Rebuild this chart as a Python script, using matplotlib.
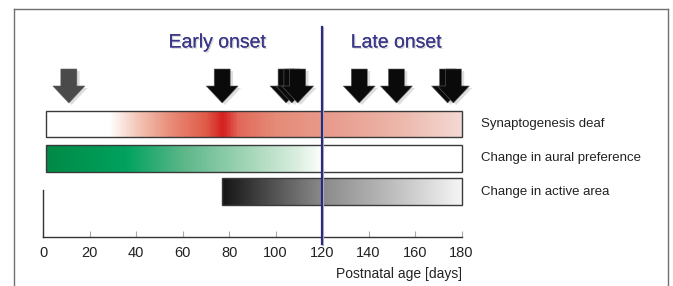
import numpy as np
import matplotlib
matplotlib.use("Agg")
import matplotlib.pyplot as plt
from matplotlib.colors import LinearSegmentedColormap
from matplotlib.patches import FancyArrow, Rectangle
from matplotlib.lines import Line2D
import matplotlib.patheffects as pe

plt.rcParams["font.family"] = ["Liberation Sans", "DejaVu Sans"]

# --- data (postnatal age in days) --------------------------------------------
bar_labels = ["Synaptogenesis deaf", "Change in aural preference", "Change in active area"]
bar_start = [1, 1, 77]
bar_end = [180, 180, 180]

# gradient colour stops along each bar: (day, colour)
red_stops = [(1, "#ffffff"), (28, "#ffffff"), (40, "#f3c7b8"), (55, "#e88a76"),
             (70, "#e05a48"), (77, "#d41f1f"), (84, "#e2695a"), (100, "#e58c78"),
             (120, "#e8998a"), (150, "#ecb3a6"), (180, "#f3d9d2")]
green_stops = [(1, "#008a46"), (35, "#00a25f"), (60, "#5cb789"), (90, "#a8d8bb"),
               (110, "#dcefe2"), (120, "#ffffff"), (180, "#ffffff")]
gray_stops = [(77, "#151515"), (100, "#555555"), (120, "#8a8a8a"),
              (150, "#bdbdbd"), (180, "#f5f5f5")]
stops = [red_stops, green_stops, gray_stops]

arrow_days = [11, 77, 104.5, 107, 109.5, 136, 152, 174, 176.5]
arrow_colors = ["#4a4a4a"] + ["#0a0a0a"] * 8

split_day = 120
ticks = list(range(0, 181, 20))

# --- layout (pixels) -----------------------------------------------------------
W, H = 673, 286
X0_PX, PX_PER_DAY = 43.3, (461.5 - 43.3) / 180
AXIS_Y = 237.3

fig = plt.figure(figsize=(W / 100, H / 100), dpi=100)
fig.patch.set_facecolor("white")

# frame around the figure panel (open at the bottom)
for xs, ys in [([14, 14], [286, 9]), ([14, 668], [9, 9]), ([668, 668], [9, 286])]:
    fig.add_artist(Line2D([x / W for x in xs], [1 - y / H for y in ys],
                          color="#707070", lw=1.0))

# real x axis
axx = fig.add_axes([X0_PX / W, (H - AXIS_Y) / H, 180 * PX_PER_DAY / W, (AXIS_Y - 190) / H])
axx.set_xlim(0, 180)
axx.set_ylim(0, 1)
axx.patch.set_alpha(0)
for s in ["top", "right"]:
    axx.spines[s].set_visible(False)
for s in ["left", "bottom"]:
    axx.spines[s].set_color("#333333")
    axx.spines[s].set_linewidth(1.0)
axx.set_yticks([])
axx.set_xticks(ticks)
axx.tick_params(axis="x", direction="in", length=4, color="#aaaaaa",
                labelsize=10.5, pad=6, labelcolor="#222222")
axx.set_xlabel("Postnatal age [days]", fontsize=10, color="#222222",
               loc="right", labelpad=5)

# overlay in day / pixel coordinates
ax = fig.add_axes([0, 0, 1, 1])
ax.patch.set_alpha(0)
ax.axis("off")

bar_y = [(111, 137), (145, 172), (178, 205)]
for (yt, yb), x0, x1, st, lab in zip(bar_y, bar_start, bar_end, stops, bar_labels):
    pos = [(d - x0) / (x1 - x0) for d, _ in st]
    cmap = LinearSegmentedColormap.from_list("g", list(zip(pos, [c for _, c in st])))
    ax.imshow(np.linspace(0, 1, 400)[np.newaxis, :], extent=(x0, x1, yb, yt),
              aspect="auto", cmap=cmap, interpolation="bilinear", zorder=2)
    ax.add_patch(Rectangle((x0, yt), x1 - x0, yb - yt, fill=False,
                           ec="#3a3a3a", lw=1.0, zorder=3))
    ax.text((481 - X0_PX) / PX_PER_DAY, (yt + yb) / 2, lab, fontsize=9.5,
            color="#222222", va="center", ha="left")

# arrows (with soft drop shadow)
shaft_w, head_w = 16 / PX_PER_DAY, 32 / PX_PER_DAY
for d, c in zip(arrow_days, arrow_colors):
    ax.add_patch(FancyArrow(d + 1.2, 71, 0, 34, width=shaft_w, head_width=head_w,
                            head_length=17, length_includes_head=True,
                            color="#c8c8c8", alpha=0.6, lw=0, zorder=3))
    ax.add_patch(FancyArrow(d, 69, 0, 34, width=shaft_w, head_width=head_w,
                            head_length=17, length_includes_head=True,
                            fc=c, ec="#606060", lw=0.4, zorder=4))

# early / late separator
ax.plot([split_day + 0.6, split_day + 0.6], [28, 245], color="#b8b8c8", lw=1.5, zorder=4)
ax.plot([split_day, split_day], [27, 244], color="#2b2b7b", lw=1.6, zorder=5)

shadow = [pe.withSimplePatchShadow(offset=(1.0, -1.0), shadow_rgbFace="#b0b0b0", alpha=0.45),
          pe.Normal()]
ax.text(75, 43, "Early onset", fontsize=14, color="#3b3787", ha="center",
        va="center", path_effects=shadow, zorder=5)
ax.text(152, 43, "Late onset", fontsize=14, color="#3b3787", ha="center",
        va="center", path_effects=shadow, zorder=5)

ax.set_xlim(-X0_PX / PX_PER_DAY, (W - X0_PX) / PX_PER_DAY)
ax.set_ylim(H, 0)

fig.savefig("out.png", dpi=100)
